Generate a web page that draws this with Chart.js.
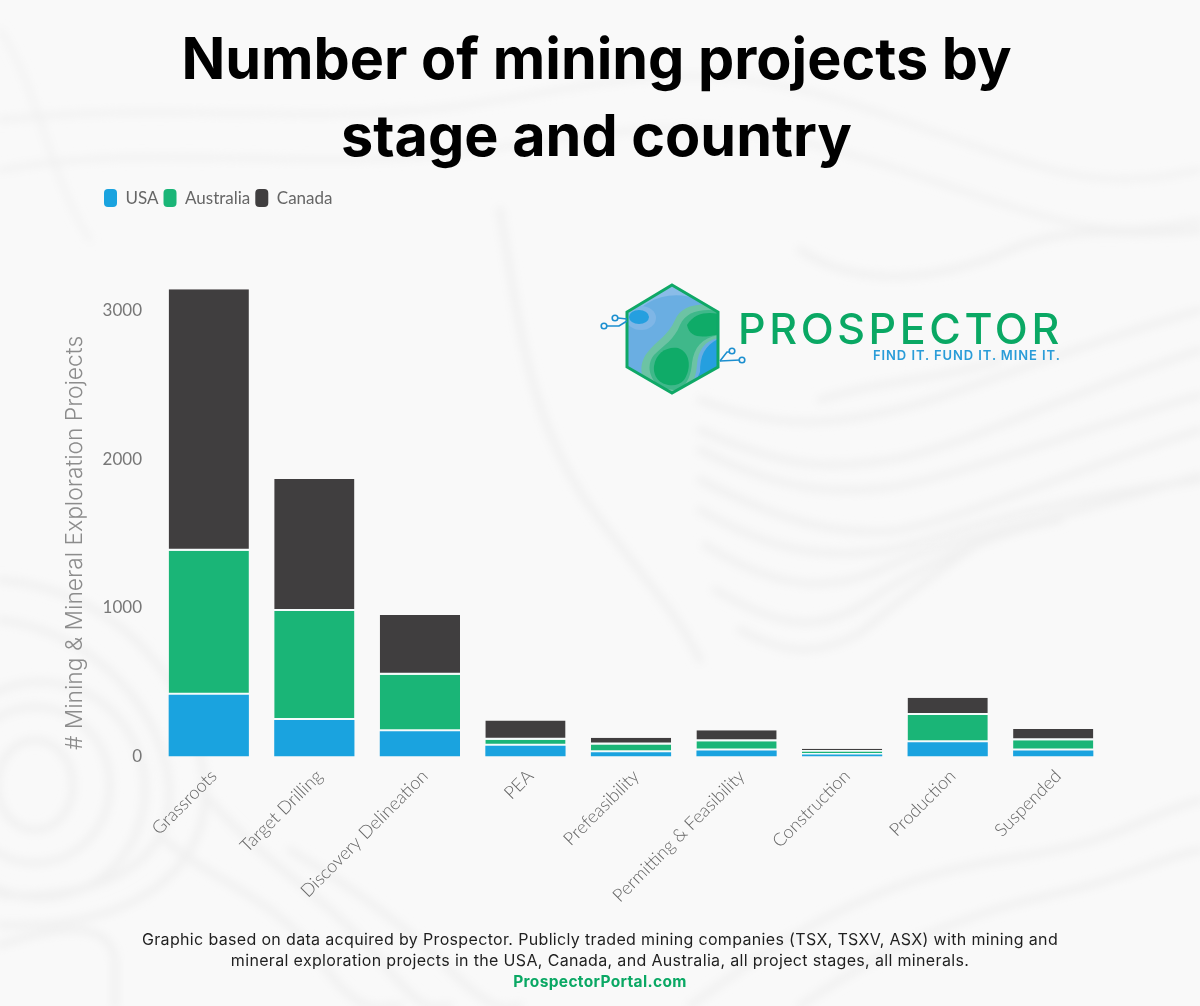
<!DOCTYPE html>
<html>
<head>
<meta charset="utf-8">
<title>Number of mining projects by stage and country</title>
<script src="https://cdn.jsdelivr.net/npm/chart.js@4"></script>
<style>
html, body { margin: 0; padding: 0; background: #f9f9f9; overflow: hidden; }
#page { position: relative; width: 1200px; height: 1006px; overflow: hidden; }
#bg, #logo { position: absolute; left: 0; top: 0; }
#chartBox { position: absolute; left: 0; top: 0; width: 1200px; height: 1006px; }
#footer { position: absolute; left: 0; top: 929px; width: 1200px; text-align: center; font-family: Inter, sans-serif; font-size: 16px; line-height: 21px; color: #1f1f1f; letter-spacing: .34px; }
#footer b { color: #0aa864; font-weight: 700; font-size: 15.5px; }
</style>
</head>
<body>
<div id="page">
  <svg id="bg" width="1200" height="1006" fill="none" stroke="#f0f0f0" stroke-linecap="round">
    <defs><filter id="soft" x="-10%" y="-10%" width="120%" height="120%"><feGaussianBlur stdDeviation="4"/></filter></defs>
    <g filter="url(#soft)" stroke-width="7">
      <!-- right side troughs -->
      <path d="M700 400 C780 430 830 425 895 410 C960 395 1030 360 1200 310"/>
      <path d="M700 430 C790 470 830 470 900 458 C980 440 1050 400 1200 350"/>
      <path d="M700 450 C780 490 830 495 893 487 C960 475 1050 440 1200 395"/>
      <path d="M700 480 C780 520 830 535 893 531 C960 520 1060 475 1200 430"/>
      <path d="M700 510 C770 550 820 560 890 550 C950 535 1040 500 1200 480"/>
      <path d="M705 545 C770 585 820 595 880 570 C940 540 1060 520 1200 475"/>
      <path d="M715 590 C770 620 810 640 870 600 C920 565 1000 530 1060 520"/>
      <path d="M740 630 C780 650 810 660 860 633 C900 600 950 560 1000 530"/>
      <!-- left bottom rings -->
      <ellipse cx="35" cy="785" rx="38" ry="45"/>
      <ellipse cx="35" cy="785" rx="75" ry="78"/>
      <ellipse cx="40" cy="790" rx="105" ry="108"/>
      <path d="M0 620 C90 630 170 710 170 800 C165 870 90 900 0 895"/>
      <path d="M0 580 C120 590 205 690 205 800 C200 880 120 930 0 925"/>
      <path d="M0 945 C60 925 110 920 115 960 L115 1006"/>
      <!-- bottom flows -->
      <path d="M165 840 C210 880 280 900 320 960 S380 1006 400 1006"/>
      <path d="M210 800 C260 860 330 900 380 960 S430 1006 450 1006"/>
      <path d="M290 850 C340 880 400 920 450 970 S510 1006 520 1006"/>
      <path d="M690 1006 C780 940 870 880 1000 860 S1130 820 1200 800"/>
      <path d="M800 1006 C880 950 960 915 1050 895 S1150 860 1200 850"/>
      <!-- upper area -->
      <path d="M0 170 C170 140 300 175 480 150 S720 110 900 170 S1100 240 1200 220" stroke-width="5"/>
      <path d="M0 120 C180 100 330 130 500 100 S730 60 900 120 S1100 190 1200 170" stroke-width="5"/>
      <path d="M0 30 C40 90 50 180 90 240" stroke-width="4"/>
      <path d="M500 210 C520 330 530 430 600 520 S680 620 700 660"/>
      <path d="M800 250 C860 290 940 280 1010 250 S1130 240 1200 230"/>
      <path d="M820 400 C880 380 940 380 1000 360"/>
    </g>
  </svg>
  <div id="chartBox"><canvas id="stageChart"></canvas></div>
  <svg id="logo" width="1200" height="1006">
    <defs><clipPath id="hex"><path d="M672 285 L718 312 L718 367 L672 393 L627 367 L627 312 Z"/></clipPath></defs>
    <g clip-path="url(#hex)">
      <rect x="620" y="280" width="105" height="120" fill="#6aaee2"/>
      <path d="M627 325 C640 300 670 288 700 300 C710 305 715 306 720 306 L720 300 L672 280 L620 310 Z" fill="#8abce8"/>
      <ellipse cx="641" cy="318" rx="15" ry="12" fill="#7fb6e6"/>
      <ellipse cx="639" cy="317" rx="10" ry="7" fill="#259fdf"/>
      <path d="M700 372 C700 355 705 345 720 338 L720 372 L690 395 Z" fill="#259fdf"/>
      <path d="M657 395 C636 380 640 362 647 353 C657 340 668 336 675 320 C681 306 697 302 720 306 L720 338 C705 340 698 350 697 365 C696 378 692 386 682 398 Z" fill="#6cc3a4"/>
      <path d="M661 388 C646 376 648 362 654 355 C664 345 674 340 680 325 C686 312 700 308 720 311 L720 335 C703 337 694 347 692 363 C691 375 688 382 680 391 Z" fill="#3fb88a"/>
      <path d="M687 325 C695 312 708 312 720 314 L720 334 C705 337 690 340 687 325 Z" fill="#0fab68"/>
      <path d="M654 366 C656 352 668 346 678 348 C690 352 692 368 684 380 C676 390 652 386 654 366 Z" fill="#0fab68"/>
    </g>
    <path d="M672 285 L718 312 L718 367 L672 393 L627 367 L627 312 Z" fill="none" stroke="#0fa866" stroke-width="3"/>
    <g fill="none" stroke="#1c8fcf" stroke-width="1.6">
      <path d="M627 321 L619 326 L607 326"/><circle cx="604" cy="326" r="2.8"/>
      <path d="M627 319 L618 318"/><circle cx="615" cy="318" r="2.8"/>
      <path d="M720 361 L727 352 L730 352"/><circle cx="732" cy="351" r="2.8"/>
      <path d="M720 361 L740 360"/><circle cx="742" cy="360" r="2.8"/>
    </g>
    <text x="738" y="344" font-family="Inter, sans-serif" font-weight="500" font-size="43" letter-spacing="3.6" fill="#0aa864">PROSPECTOR</text>
    <text x="873" y="360" font-family="Inter, sans-serif" font-weight="600" font-size="13" letter-spacing=".92" fill="#2a9cd8">FIND IT. FUND IT. MINE IT.</text>
  </svg>
  <div id="footer">Graphic based on data acquired by Prospector. Publicly traded mining companies (TSX, TSXV, ASX) with mining and<br>mineral exploration projects in the USA, Canada, and Australia, all project stages, all minerals.<br><b>ProspectorPortal.com</b></div>
</div>
<script>
const stages = ["Grassroots", "Target Drilling", "Discovery Delineation", "PEA", "Prefeasibility", "Permitting & Feasibility", "Construction", "Production", "Suspended"];
const usa = [415, 245, 170, 72, 28, 40, 13, 96, 40];
const australia = [970, 735, 380, 41, 52, 63, 20, 184, 70];
const canada = [1760, 888, 403, 130, 47, 73, 20, 116, 75];
const yTicks = [0, 1000, 2000, 3000];

const grey = "#777777";

// legend sits right of the axis title, page title is centred on the page rather than the plot
const moveBlocks = {
    id: "moveBlocks",
    afterLayout(chart) {
        chart.legend.left = 99;
        chart.titleBlock.left = 87;
        chart.titleBlock.right = 1106;
    }
};

const gap = {top: 0, right: 0, bottom: 2, left: 0};

new Chart(document.getElementById("stageChart"), {
    type: "bar",
    data: {
        labels: stages,
        datasets: [
            {label: "USA", data: usa, backgroundColor: "#1aa3df", borderWidth: 0, borderSkipped: false},
            {label: "Australia", data: australia, backgroundColor: "#1ab577", borderColor: "#f4fbfb", borderWidth: gap, borderSkipped: false},
            {label: "Canada", data: canada, backgroundColor: "#403e3f", borderColor: "#f4fbfb", borderWidth: gap, borderSkipped: false}
        ]
    },
    options: {
        responsive: true,
        maintainAspectRatio: false,
        animation: false,
        layout: {padding: {left: 61, right: 94, top: 0, bottom: 0}},
        datasets: {bar: {barPercentage: 0.76, categoryPercentage: 1}},
        plugins: {
            title: {
                display: true,
                text: ["Number of mining projects by", "stage and country"],
                color: "#000000",
                font: {family: "Inter", size: 57.5, weight: "700", lineHeight: 1.34},
                padding: {top: 23, bottom: 7}
            },
            legend: {
                position: "top",
                align: "start",
                labels: {
                    boxWidth: 13,
                    boxHeight: 18,
                    useBorderRadius: true,
                    borderRadius: 4,
                    padding: 5,
                    color: "#666666",
                    font: {family: "Lato", size: 17},
                    generateLabels(chart) {
                        return Chart.defaults.plugins.legend.labels.generateLabels(chart).map(item => {
                            item.lineWidth = 0;
                            return item;
                        });
                    }
                }
            },
            tooltip: {enabled: false}
        },
        scales: {
            x: {
                stacked: true,
                afterFit(scale) { scale.height = 249.5; },
                grid: {display: false, drawTicks: false},
                border: {display: false},
                ticks: {
                    autoSkip: false,
                    minRotation: 45,
                    maxRotation: 45,
                    padding: 9,
                    labelOffset: 5,
                    color: "#666666",
                    font: {family: "Lato", size: 18, weight: "300"}
                }
            },
            y: {
                stacked: true,
                min: 0,
                max: 3631,
                afterFit(scale) { scale.width = 95; },
                afterBuildTicks(scale) { scale.ticks = yTicks.map(value => ({value})); },
                grid: {display: false, drawTicks: false},
                border: {display: false},
                ticks: {
                    padding: 14,
                    color: grey,
                    font: {family: "Lato", size: 17},
                    callback: value => String(value)
                },
                title: {
                    display: true,
                    text: " # Mining & Mineral Exploration Projects",
                    align: "start",
                    color: "#8c8c8c",
                    font: {family: "Inter", size: 22.8, weight: "300"},
                    padding: {top: 0, bottom: 0}
                }
            }
        }
    },
    plugins: [moveBlocks]
});
</script>
</body>
</html>
